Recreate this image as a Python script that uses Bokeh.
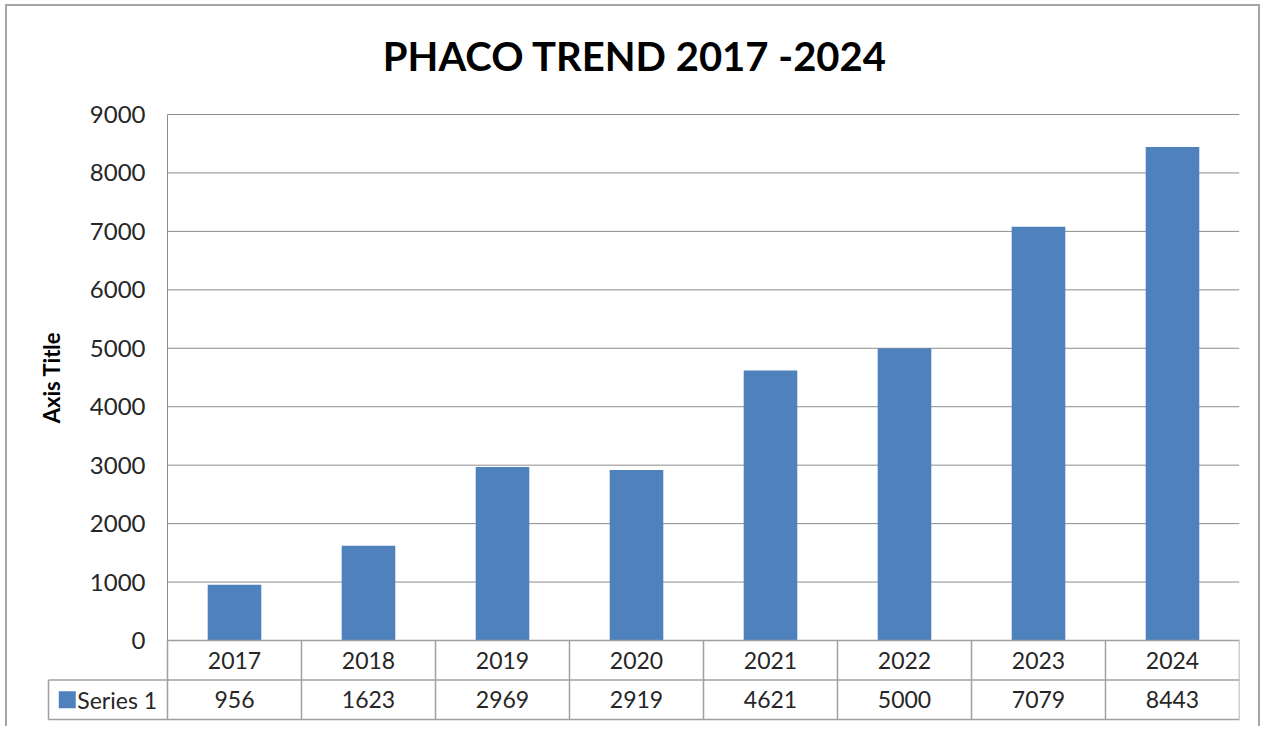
from bokeh.plotting import figure
from bokeh.models import LinearAxis, FixedTicker, Range1d
from bokeh.core.properties import value
from bokeh.embed import file_html
from bokeh.resources import INLINE

# ---- data ----
years = ["2017", "2018", "2019", "2020", "2021", "2022", "2023", "2024"]
counts = [956, 1623, 2969, 2919, 4621, 5000, 7079, 8443]
y_ticks = [0, 1000, 2000, 3000, 4000, 5000, 6000, 7000, 8000, 9000]
series_name = "Series 1"
title_text = "PHACO TREND 2017 -2024"
y_axis_title = "Axis Title"

# ---- layout helpers ----
n = len(years)
centers = [i + 0.5 for i in range(n)]
ROW = 676          # height of one data-table row, in y units
LABEL_COL = 0.888  # width of the legend cell of the table, in category units
LEFT_PAD = 1.0224  # frame extends left of the plot area (room for axis labels)
TOP_PAD = 308      # frame extends above the last tick
GRID = "#8c8c8c"
TABLE = "#a0a0a0"
TXT = "#262626"
FONT = "Lato"
BAR = "#4F81BD"

p = figure(width=1255, height=722,
           x_range=Range1d(-LEFT_PAD, n),
           y_range=Range1d(-2 * ROW - 51, max(y_ticks) + TOP_PAD),
           x_axis_type=None, y_axis_type=None,
           toolbar_location=None, output_backend="svg",
           min_border_left=23, min_border_right=23,
           min_border_top=90, min_border_bottom=6)
p.outline_line_color = None
p.background_fill_color = "white"
p.border_fill_color = "white"
p.styles = {"margin-left": "5px", "margin-top": "4px",
            "border-left": "2px solid #a6a6a6",
            "border-top": "2px solid #a6a6a6",
            "border-right": "2px solid #a6a6a6"}

p.title.text = title_text
p.title.align = "center"
p.title.text_font = FONT
p.title.text_font_size = "40px"
p.title.text_font_style = "bold"
p.title.text_color = "black"
p.title.offset = 0
p.title.standoff = 33

# horizontal gridlines
p.segment(x0=0, x1=n, y0=y_ticks[1:], y1=y_ticks[1:], line_color=GRID, line_width=1)

# bars
p.vbar(x=centers, top=counts, bottom=0, width=0.4, fill_color=BAR, line_color=None)

# y axis at the left edge of the plot area
yax = LinearAxis(fixed_location=0, bounds=(min(y_ticks), max(y_ticks)),
                 ticker=FixedTicker(ticks=y_ticks))
yax.axis_line_color = GRID
yax.major_tick_line_color = None
yax.minor_tick_line_color = None
yax.major_tick_out = 0
yax.major_tick_in = 0
yax.major_label_standoff = 22
yax.major_label_text_font = FONT
yax.major_label_text_font_size = "24px"
yax.major_label_text_color = TXT
yax.axis_label = y_axis_title
yax.axis_label_text_font = FONT
yax.axis_label_text_font_size = "22px"
yax.axis_label_text_font_style = "bold"
yax.axis_label_text_color = "black"
yax.axis_label_standoff = 22
p.add_layout(yax, "left")

# data table lines
p.segment(x0=0, x1=n, y0=0, y1=0, line_color=TABLE, line_width=1.5)
p.segment(x0=-LABEL_COL, x1=n, y0=[-ROW, -2 * ROW], y1=[-ROW, -2 * ROW],
          line_color=TABLE, line_width=1.5)
p.segment(x0=list(range(n + 1)), x1=list(range(n + 1)), y0=-2 * ROW, y1=0,
          line_color=TABLE, line_width=1.5)
p.segment(x0=-LABEL_COL, x1=-LABEL_COL, y0=-2 * ROW, y1=-ROW,
          line_color=TABLE, line_width=1.5)

# table text
p.text(x=centers, y=-ROW / 2, text=years, text_align="center", text_baseline="middle",
       text_font=value(FONT), text_font_size="23px", text_color=TXT)
p.text(x=centers, y=-1.5 * ROW, text=[str(c) for c in counts], text_align="center",
       text_baseline="middle", text_font=value(FONT), text_font_size="23px", text_color=TXT)
p.scatter(x=[-LABEL_COL + 0.14], y=[-1.5 * ROW], marker="square", size=17,
          fill_color=BAR, line_color=None)
p.text(x=[-LABEL_COL + 0.215], y=[-1.5 * ROW], text=[series_name], text_align="left",
       text_baseline="middle", text_font=value(FONT), text_font_size="23px", text_color=TXT)

open("out.html", "w").write(file_html(p, INLINE))
